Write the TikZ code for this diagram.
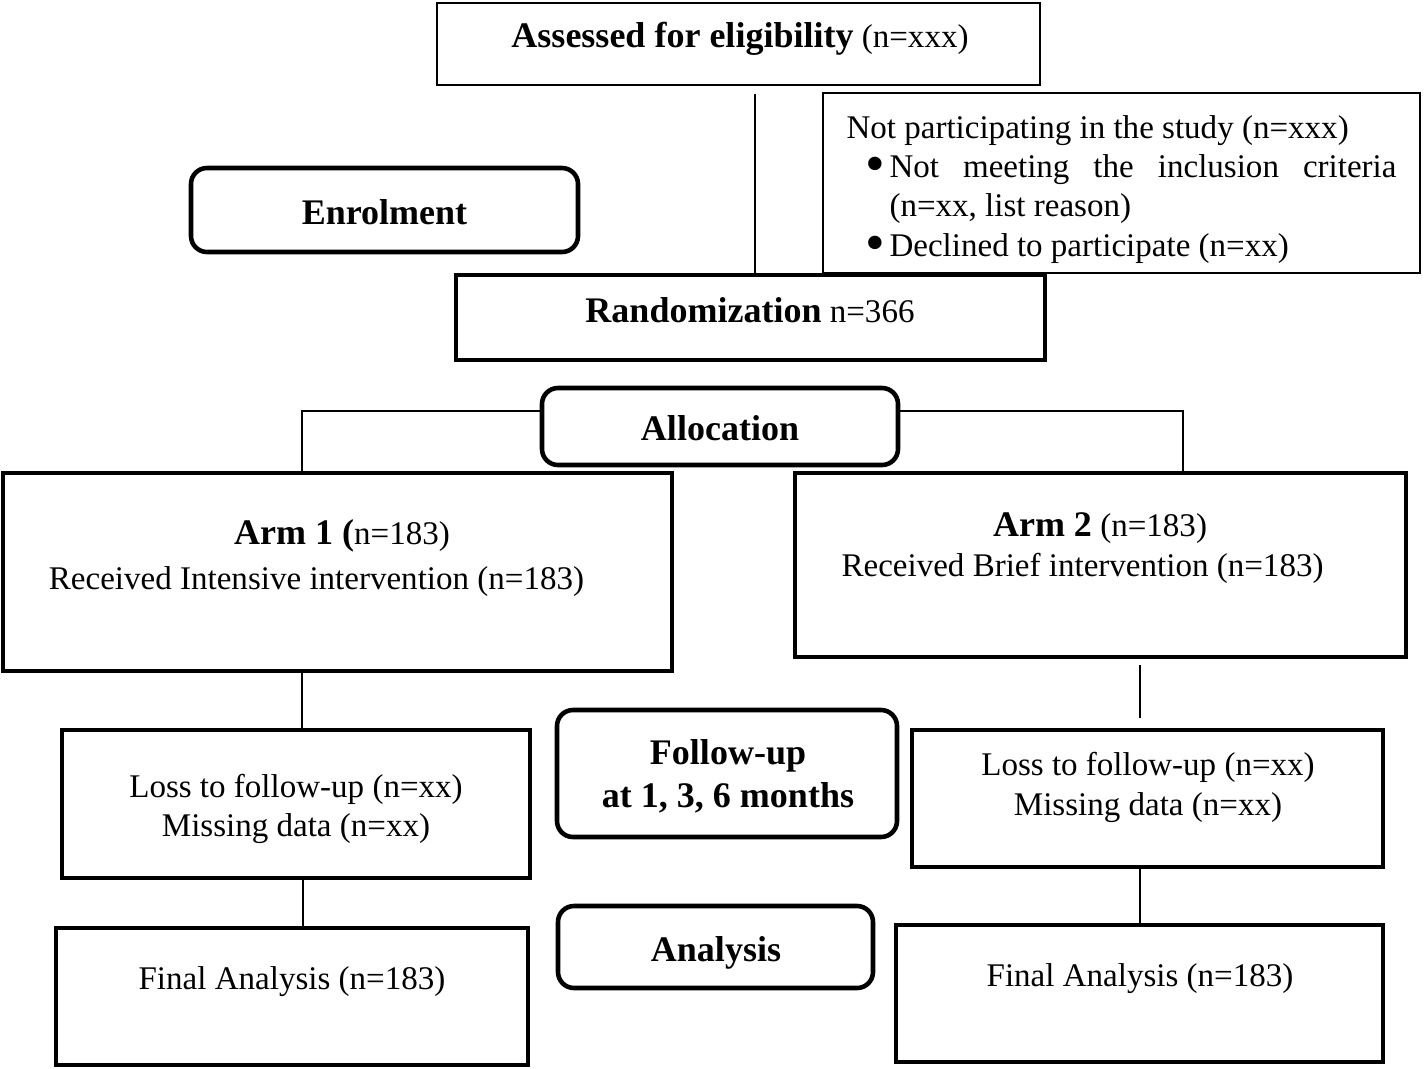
\documentclass[tikz,border=0pt]{standalone}
\usepackage{graphicx}
\usepackage{fontspec}
\setmainfont{Liberation Serif}[BoldFeatures={Scale=1.09}]
\newcommand{\dotitem}{\noindent\llap{\raisebox{-1.6pt}{\scalebox{1.7}{\textbullet}}\hspace{0.04cm}}}
\tikzset{
	thinbox/.style={draw, line width=0.6pt, inner sep=0pt},
	thickbox/.style={draw, line width=1.3pt, inner sep=0pt},
	roundbox/.style={thickbox, rounded corners=0.16cm},
	txt/.style={align=center, font=\fontsize{9.4}{11.2}\selectfont, inner sep=0pt},
	link/.style={line width=0.6pt},
}
\begin{document}
\begin{tikzpicture}
	\useasboundingbox (0,0) rectangle (14.24,-10.68);

	% boxes
	\node [thinbox, minimum width=6.03cm, minimum height=0.82cm] (assessed) at (7.385,-0.44) {};
	\node [thinbox, minimum width=5.97cm, minimum height=1.80cm, text width=5.5cm, inner xsep=0.235cm,
		align=justify, font=\fontsize{9.4}{11.2}\selectfont] (notpart) at (11.215,-1.83)
		{\noindent\rule{0pt}{10pt}Not participating in the study (n=xxx)\par
		\leftskip=0.43cm
		\dotitem Not meeting the inclusion criteria\linebreak (n=xx, list reason)\par
		\dotitem Declined to participate (n=xx)\par};
	\node [roundbox, minimum width=3.87cm, minimum height=0.84cm] (enrol) at (3.845,-2.10) {};
	\node [thickbox, minimum width=5.89cm, minimum height=0.85cm] (random) at (7.505,-3.175) {};
	\node [roundbox, minimum width=3.56cm, minimum height=0.77cm] (alloc) at (7.20,-4.265) {};
	\node [thickbox, minimum width=6.69cm, minimum height=1.98cm] (arm1) at (3.375,-5.72) {};
	\node [thickbox, minimum width=6.11cm, minimum height=1.84cm] (arm2) at (11.005,-5.65) {};
	\node [thickbox, minimum width=4.68cm, minimum height=1.48cm] (lossl) at (2.96,-8.04) {};
	\node [roundbox, minimum width=3.40cm, minimum height=1.27cm] (follow) at (7.27,-7.735) {};
	\node [thickbox, minimum width=4.71cm, minimum height=1.37cm] (lossr) at (11.475,-7.985) {};
	\node [thickbox, minimum width=4.72cm, minimum height=1.37cm] (finall) at (2.92,-9.965) {};
	\node [roundbox, minimum width=3.15cm, minimum height=0.82cm] (analysis) at (7.155,-9.47) {};
	\node [thickbox, minimum width=4.87cm, minimum height=1.37cm] (finalr) at (11.395,-9.935) {};

	% texts
	\node [txt] (assessedtxt) at (7.40,-0.39) {\textbf{Assessed for eligibility} (n=xxx)};
	\node [txt] (enroltxt) at (3.845,-2.12) {\textbf{Enrolment}};
	\node [txt] (randomtxt) at (7.50,-3.10) {\textbf{Randomization} n=366};
	\node [txt] (alloctxt) at (7.20,-4.28) {\textbf{Allocation}};
	\node [txt] (arm1txt) at (3.165,-5.58) {\hspace*{0.51cm}\textbf{Arm 1 (}n=183)\\[1.5pt] Received Intensive intervention (n=183)};
	\node [txt] (arm2txt) at (10.825,-5.48) {\hspace*{0.35cm}\textbf{Arm 2} (n=183)\\ Received Brief intervention (n=183)};
	\node [txt] (lossltxt) at (2.96,-8.09) {Loss to follow-up (n=xx)\\ Missing data (n=xx)};
	\node [txt] (followtxt) at (7.28,-7.765) {\textbf{Follow-up}\\[1pt] \textbf{at 1, 3, 6 months}};
	\node [txt] (lossrtxt) at (11.48,-7.875) {Loss to follow-up (n=xx)\\ Missing data (n=xx)};
	\node [txt] (finalltxt) at (2.92,-9.82) {Final Analysis (n=183)};
	\node [txt] (analysistxt) at (7.16,-9.53) {\textbf{Analysis}};
	\node [txt] (finalrtxt) at (11.40,-9.79) {Final Analysis (n=183)};

	% connectors
	\coordinate (gapa) at (7.55,-0.94);
	\draw [link] (gapa) -- (gapa |- random.north);
	\draw [link] ([yshift=0.155cm]alloc.west) -| (3.02,0 |- arm1.north);
	\draw [link] ([yshift=0.155cm]alloc.east) -| (11.83,0 |- arm2.north);
	\draw [link] (3.02,0 |- arm1.south) -- (3.02,0 |- lossl.north);
	\draw [link, shorten <=0.06cm, shorten >=0.1cm] (11.40,0 |- arm2.south) -- (11.40,0 |- lossr.north);
	\draw [link] (3.03,0 |- lossl.south) -- (3.03,0 |- finall.north);
	\draw [link] (11.40,0 |- lossr.south) -- (11.40,0 |- finalr.north);
\end{tikzpicture}
\end{document}
